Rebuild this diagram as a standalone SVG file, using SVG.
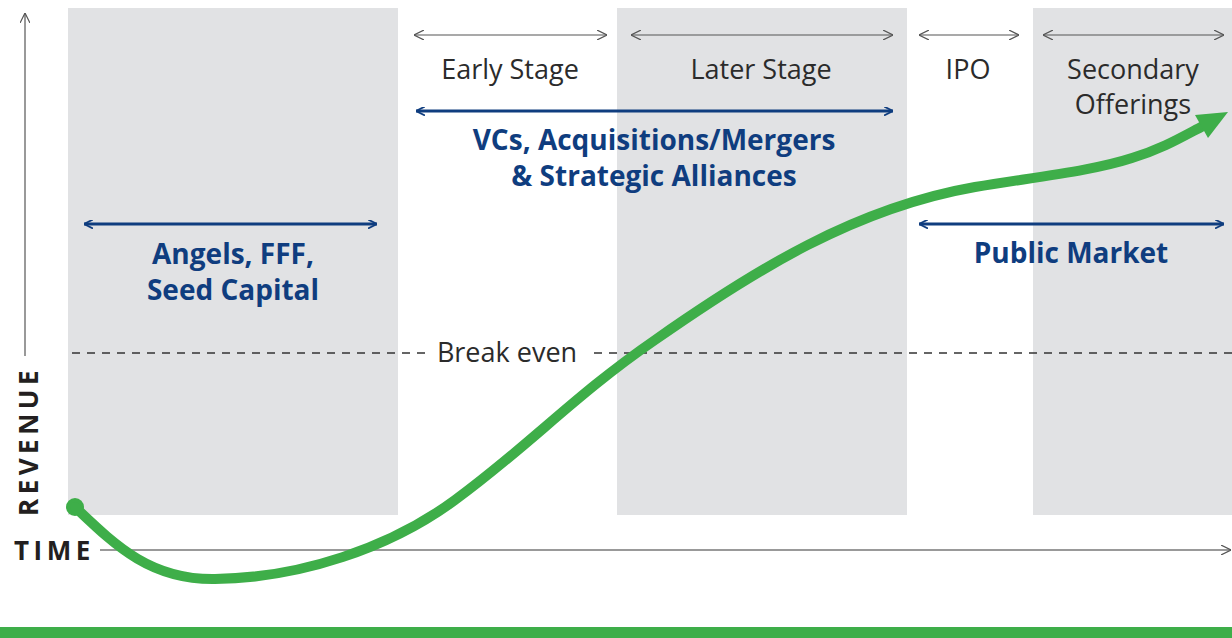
<svg xmlns="http://www.w3.org/2000/svg" width="1232" height="638" viewBox="0 0 1232 638">
<style>
.band{fill:#e1e2e4}
.lbl{font-family:"Open Sans","Liberation Sans",sans-serif;font-size:27px;fill:#2b2b2b;text-anchor:middle}
.blue{font-family:"Open Sans","Liberation Sans",sans-serif;font-size:28px;font-weight:700;fill:#0f3d7f;text-anchor:middle}
.ax{font-family:"Open Sans","Liberation Sans",sans-serif;font-size:26px;font-weight:700;fill:#231f20;letter-spacing:4.5px}
.thin{stroke:#555;stroke-width:1.2;fill:none}
.bl{stroke:#0f3d7f;stroke-width:3;fill:none}
</style>
<defs>
<marker id="ga" viewBox="0 0 10 10" refX="10" refY="5" markerWidth="10" markerHeight="10" markerUnits="userSpaceOnUse" orient="auto-start-reverse"><path d="M0,0 L10,5 L0,10" fill="none" stroke="#555" stroke-width="1.2"/></marker>
<marker id="ba" viewBox="0 0 10 10" refX="10" refY="5" markerWidth="9" markerHeight="9" markerUnits="userSpaceOnUse" orient="auto-start-reverse"><path d="M0,0 L10,5 L0,10" fill="none" stroke="#0f3d7f" stroke-width="2"/></marker>
</defs>
<g id="bands">
<rect class="band" x="68" y="8" width="330" height="507"/>
<rect class="band" x="617" y="8" width="290" height="507"/>
<rect class="band" x="1033" y="8" width="199" height="507"/>
</g>
<g id="axes">
<line class="thin" x1="25" y1="356" x2="25" y2="13" marker-end="url(#ga)"/>
<line x1="100" y1="550" x2="1231" y2="550" stroke="#777" stroke-width="1.5" marker-end="url(#ga)"/>
<text class="ax" transform="translate(38,516) rotate(-90)">REVENUE</text>
<text class="ax" x="14" y="560">TIME</text>
</g>
<g id="breakeven">
<line x1="72" y1="353" x2="430" y2="353" stroke="#333" stroke-width="1.3" stroke-dasharray="8,7"/>
<line x1="594" y1="353" x2="1232" y2="353" stroke="#333" stroke-width="1.3" stroke-dasharray="8,7"/>
<text class="lbl" x="507" y="362">Break even</text>
</g>
<g id="connectors">
<line class="thin" x1="414" y1="35" x2="607" y2="35" marker-start="url(#ga)" marker-end="url(#ga)"/>
<line class="thin" x1="631" y1="35" x2="893" y2="35" marker-start="url(#ga)" marker-end="url(#ga)"/>
<line class="thin" x1="919" y1="35" x2="1019" y2="35" marker-start="url(#ga)" marker-end="url(#ga)"/>
<line class="thin" x1="1043" y1="35" x2="1224" y2="35" marker-start="url(#ga)" marker-end="url(#ga)"/>
<line class="bl" x1="416" y1="111" x2="893" y2="111" marker-start="url(#ba)" marker-end="url(#ba)"/>
<line class="bl" x1="84" y1="224" x2="377" y2="224" marker-start="url(#ba)" marker-end="url(#ba)"/>
<line class="bl" x1="919" y1="224" x2="1224" y2="224" marker-start="url(#ba)" marker-end="url(#ba)"/>
</g>
<g id="stage-labels">
<text class="lbl" x="510" y="79">Early Stage</text>
<text class="lbl" x="761" y="79">Later Stage</text>
<text class="lbl" x="968" y="79">IPO</text>
<text class="lbl" x="1133" y="79">Secondary</text>
<text class="lbl" x="1133" y="114">Offerings</text>
</g>
<g id="funding-labels">
<text class="blue" x="654" y="150">VCs, Acquisitions/Mergers</text>
<text class="blue" x="654" y="186">&amp; Strategic Alliances</text>
<text class="blue" x="233" y="264">Angels, FFF,</text>
<text class="blue" x="233" y="300">Seed Capital</text>
<text class="blue" x="1071" y="263">Public Market</text>
</g>
<g id="growth-curve">
<circle cx="75" cy="507" r="9" fill="#3eae49"/>
<path d="M75,507 C115,545 150,580 215,579 C300,578 390,548 455,500 C530,445 575,395 655,340 C755,270 855,208 975,187 C1050,175 1095,170 1132,158 C1162,149 1182,137 1203,126" fill="none" stroke="#3eae49" stroke-width="10" stroke-linecap="round"/>
<polygon points="1228,112 1208,138 1195,115" fill="#3eae49"/>
</g>
<rect id="bottom-bar" x="0" y="627" width="1232" height="11" fill="#3eae49"/>
</svg>
